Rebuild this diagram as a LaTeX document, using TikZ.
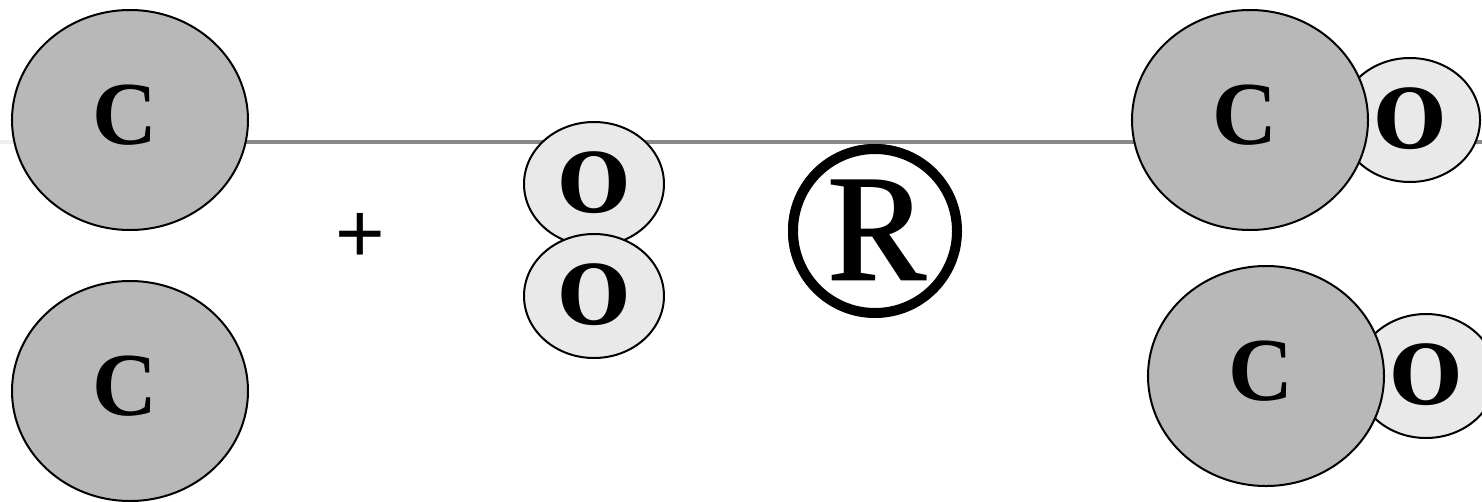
\documentclass[tikz,border=0pt]{standalone}
\usepackage{fontspec}
\setmainfont{DejaVu Serif}
\newfontfamily\carbonfont{Liberation Serif}
\newfontfamily\plusfont{Liberation Sans}
\usetikzlibrary{
  positioning,
  shapes.geometric
}
\definecolor{carbongray}{RGB}{184,184,184}
\definecolor{oxygengray}{RGB}{233,233,233}
\definecolor{bondgray}{RGB}{136,136,136}
\definecolor{paleline}{RGB}{238,238,238}
\tikzset{
  carbon/.style={ellipse,draw=black,line width=2pt,fill=carbongray,inner sep=0pt,
    minimum width=236,minimum height=220},
  oxygen/.style={ellipse,draw=black,line width=2pt,fill=oxygengray,inner sep=0pt,
    minimum width=140,minimum height=124},
  carbonletter/.style={font=\fontsize{90}{90}\carbonfont\bfseries,anchor=base,inner sep=0pt,
    xshift=-5pt,yshift=-24pt},
  oxygenletter/.style={font=\fontsize{82}{82}\bfseries,anchor=base,inner sep=0pt,
    yshift=-28pt}
}
\newcommand{\atom}[5]{%
  \node[#5] (#1) at (#2,#3) {};%
  \node[#5letter] (#1txt) at (#1.center) {#4};%
}

\begin{document}
\begin{tikzpicture}[x=1pt,y=-1pt]
  \useasboundingbox (0,0) rectangle (1482,501);

  % horizontal line behind everything
  \coordinate (lineA) at (0,142);
  \coordinate (lineB) at (14,142);
  \coordinate (lineC) at (1482,142);
  \draw[paleline,line width=4pt] (lineA) -- (lineB);
  \draw[bondgray,line width=4pt] (lineB) -- (lineC);

  % left side
  \atom{cOne}{130}{120}{C}{carbon}
  \atom{cTwo}{130}{391}{C}{carbon}

  \node[font=\fontsize{85}{85}\plusfont,inner sep=0pt] (plus) at (360,238) {+};

  % oxygen pair
  \atom{oOne}{594}{184}{O}{oxygen}
  \atom{oTwo}{594}{296}{O}{oxygen}

  \node[font=\fontsize{257}{257}\carbonfont,inner sep=0pt] (arrow) at (875,231) {®};
  \node[circle,draw=black,line width=10pt,minimum size=164,inner sep=0pt,outer sep=0pt] (arrowring) at (arrow.center) {};

  % right side
  \atom{oThree}{1410}{120}{O}{oxygen}
  \atom{cThree}{1250}{120}{C}{carbon}
  \atom{oFour}{1426}{376}{O}{oxygen}
  \atom{cFour}{1266}{376}{C}{carbon}

\end{tikzpicture}
\end{document}
